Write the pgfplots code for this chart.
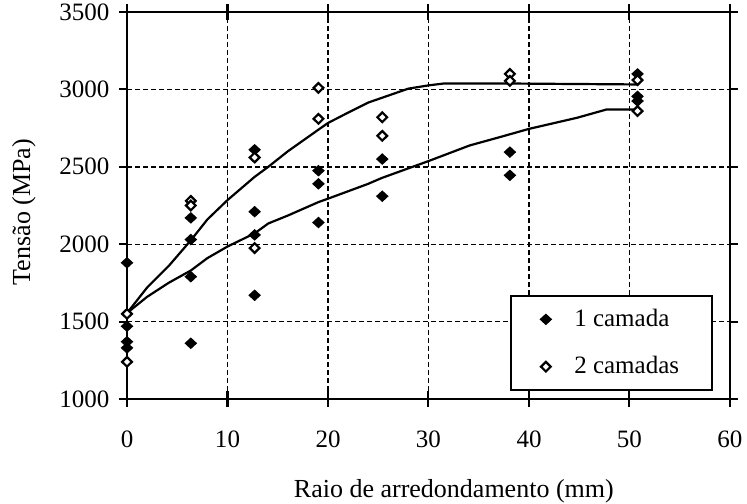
\documentclass[border=0pt]{standalone}
\usepackage{pgfplots}
\pgfplotsset{compat=1.18}
\usepackage{fontspec}
\setmainfont{Liberation Serif}

% measured points, one table per layer count
\pgfplotstableread{
x     y
0     1880
0     1470
0     1370
0     1330
6.35  2170
6.35  2030
6.35  1790
6.35  1360
12.7  2610
12.7  2210
12.7  2060
12.7  1670
19.05 2475
19.05 2390
19.05 2140
25.4  2550
25.4  2310
38.1  2595
38.1  2445
50.8  3100
50.8  2955
50.8  2925
}\umacamada
\pgfplotstableread{
x     y
0     1550
0     1240
6.35  2280
6.35  2250
12.7  2560
12.7  1975
19.05 3010
19.05 2810
25.4  2820
25.4  2700
38.1  3100
38.1  3055
50.8  3060
50.8  2860
}\duascamadas

% fitted trends
\pgfplotstableread{
x     y
0     1555
2     1720
4.16  1860
6.35  2025
8     2160
10    2285
12.7  2435
14.06 2500
16    2600
19.05 2740
20    2783
22    2850
24    2915
26    2960
28    3005
30    3026
31.5  3038
38.1  3038
50.8  3032
}\tendenciadois
\pgfplotstableread{
x     y
0     1555
2     1660
4.16  1751
6.35  1830
8     1910
10    1985
12.7  2070
14.06 2134
16    2185
19.05 2272
20    2294
23.96 2389
25.4  2429
30    2537
34.1  2638
37    2690
40    2745
44.8  2817
47.7  2870
50.8  2870
}\tendenciaum

\begin{document}
\begin{tikzpicture}
\begin{axis}[
  name=ax,
  scale only axis,
  width=301.5pt, height=193.5pt,
  xmin=0, xmax=60, ymin=1000, ymax=3500,
  xtick={0,10,...,60},
  ytick={1000,1500,...,3500},
  % inner halves of the x ticks, so that they cross the axis
  extra x ticks={0,10,...,60},
  extra x tick labels={},
  extra x tick style={tick align=inside, grid=none},
  scaled ticks=false,
  /pgf/number format/.cd, 1000 sep={}, assume math mode=true, /pgfplots/.cd,
  ticklabel style={font=\fontsize{12.5}{14}\selectfont},
  xticklabel style={yshift=-8.5pt},
  yticklabel style={xshift=-1.5pt},
  tick align=outside,
  major tick length=3.8pt,
  tick style={black, line width=1pt},
  axis line style={line width=1.25pt},
  grid=major,
  major grid style={black, line width=0.7pt, dash pattern=on 2.5pt off 1.5pt},
  xlabel={Raio de arredondamento (mm)},
  ylabel={Tensão (MPa)},
  label style={font=\fontsize{13}{15}\selectfont},
  xlabel style={at={(axis description cs:0.542,0)}, anchor=base, yshift=-49pt},
  ylabel style={at={(axis description cs:-0.171,0.483)}, anchor=center},
  legend cell align=left,
  legend image code/.code={\path (-2pt,0pt); \draw[#1] plot coordinates {(0cm,0cm)};},
  legend style={
    at={(axis description cs:0.972,0.021)}, anchor=south east,
    draw=black, line width=1pt, fill=white,
    font=\fontsize{12.5}{14}\selectfont,
    inner xsep=14.5pt, inner ysep=4.5pt,
    row sep=9.5pt, column sep=9.5pt,
  },
]
\addplot[black, line width=1.1pt, forget plot] table {\tendenciadois};
\addplot[black, line width=1.1pt, forget plot] table {\tendenciaum};
\addplot[only marks, mark=diamond*, mark size=2.5pt,
  mark options={xscale=1.45, fill=black, draw=black, line width=0.6pt}] table {\umacamada};
\addlegendentry{1 camada}
\addplot[only marks, mark=diamond*, mark size=2.4pt,
  mark options={xscale=1.35, fill=white, draw=black, line width=1.1pt}] table {\duascamadas};
\addlegendentry{2 camadas}
\end{axis}
\pgfresetboundingbox
\path[use as bounding box]
  ([xshift=-63.5pt, yshift=-52pt]ax.south west)
  rectangle ([xshift=8.5pt, yshift=6pt]ax.north east);
\end{tikzpicture}
\end{document}
